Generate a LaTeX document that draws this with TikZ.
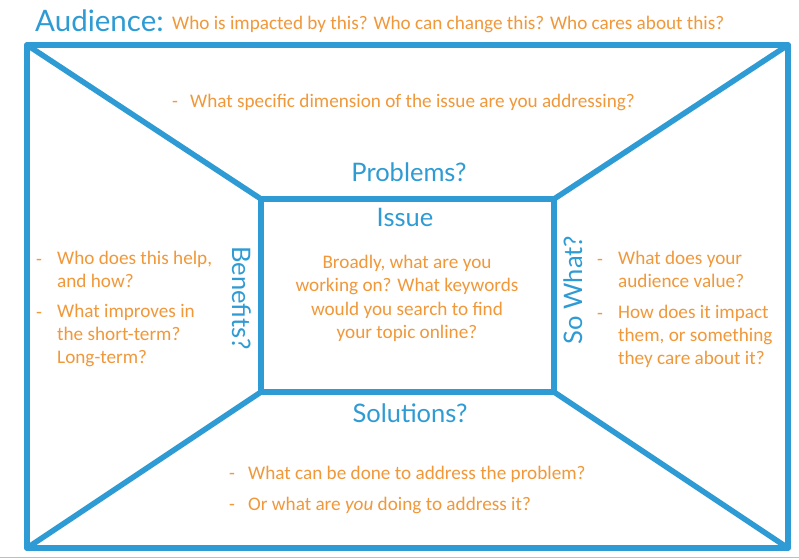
\documentclass[tikz,border=0pt]{standalone}
\usepackage{fontspec}
\setmainfont{Carlito}
\newfontfamily\headfont{Lato}
\definecolor{frameblue}{RGB}{46,155,212}
\definecolor{noteorange}{RGB}{240,152,58}
\begin{document}
\begin{tikzpicture}[x=1pt,y=-1pt,
  frame/.style={draw=frameblue,line width=5.5pt,line join=round,line cap=round},
  heading/.style={text=frameblue,font=\headfont\fontsize{25.5}{28}\selectfont,inner sep=0pt},
  note/.style={text=noteorange,font=\fontsize{19.2}{23}\selectfont,inner sep=0pt,align=left},
  centred/.style={text=noteorange,font=\fontsize{19.2}{23.3}\selectfont,inner sep=0pt,align=center},
  dashmark/.style={text=noteorange,font=\fontsize{19.2}{23}\selectfont,inner sep=0pt}]
\useasboundingbox (0,0) rectangle (799,559);
\fill[white] (0,0) rectangle (799,559);
\draw[black!25,line width=1pt] (0,557.5) -- (799,557.5);

% outer frame and inner box corners
\coordinate (otl) at (27,45);
\coordinate (otr) at (788,45);
\coordinate (obr) at (788,548);
\coordinate (obl) at (27,548);
\coordinate (itl) at (261,199);
\coordinate (itr) at (554,199);
\coordinate (ibr) at (554,392);
\coordinate (ibl) at (261,392);

\draw[frame] (otl) -- (otr) -- (obr) -- (obl) -- cycle;
\draw[frame] (itl) -- (itr) -- (ibr) -- (ibl) -- cycle;
\draw[frame] (otl) -- (itl);
\draw[frame] (otr) -- (itr);
\draw[frame] (obr) -- (ibr);
\draw[frame] (obl) -- (ibl);

% title line
\node[text=frameblue,font=\headfont\fontsize{29.5}{32}\selectfont,inner sep=0pt,anchor=base west] (aud) at (35,32) {Audience:};
\node[text=noteorange,font=\fontsize{19.2}{22}\selectfont,inner sep=0pt,anchor=base west] (audq) at (172,30) {Who is impacted by this? Who can change this? Who cares about this?};

% top panel
\node[dashmark,anchor=base west] (tdash) at (172,107) {-};
\node[note,anchor=base west] (tq) at (190,107) {What specific dimension of the issue are you addressing?};
\node[heading,anchor=base] (prob) at (409,181) {Problems?};

% inner box
\node[heading,anchor=base] (issue) at (405,226) {Issue};
\node[centred,anchor=north] (issueq) at (407,255) {Broadly, what are you\\working on? What keywords\\would you search to find\\your topic online?};

% left panel
\node[heading,rotate=-90,anchor=base] (ben) at (232,298) {Benefits?};
\node[dashmark,anchor=base west] (ld1) at (36,265) {-};
\node[note,anchor=north west] (lq1) at (57,251) {Who does this help,\\and how?};
\node[dashmark,anchor=base west] (ld2) at (36,318) {-};
\node[note,anchor=north west] (lq2) at (57,304) {What improves in\\the short-term?\\Long-term?};

% right panel
\node[heading,rotate=90,anchor=base] (sowhat) at (582,290) {So What?};
\node[dashmark,anchor=base west] (rd1) at (597,265) {-};
\node[note,anchor=north west] (rq1) at (618,251) {What does your\\audience value?};
\node[dashmark,anchor=base west] (rd2) at (597,319) {-};
\node[note,anchor=north west] (rq2) at (618,305) {How does it impact\\them, or something\\they care about it?};

% bottom panel
\node[heading,anchor=base] (sol) at (410,422) {Solutions?};
\node[dashmark,anchor=base west] (bd1) at (229,479) {-};
\node[note,anchor=base west] (bq1) at (248,479) {What can be done to address the problem?};
\node[dashmark,anchor=base west] (bd2) at (229,510) {-};
\node[note,anchor=base west] (bq2) at (248,510) {Or what are \textit{you} doing to address it?};
\end{tikzpicture}
\end{document}
